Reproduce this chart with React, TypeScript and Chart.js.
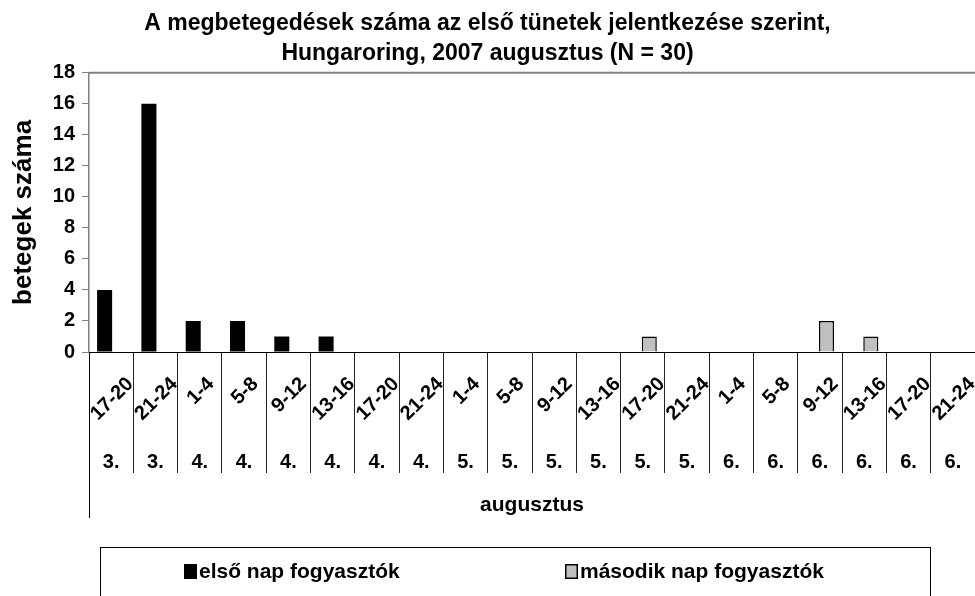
import React, { useEffect, useRef } from 'react';
import { Chart, registerables } from 'chart.js';

Chart.register(...registerables);

const FONT = '"Liberation Sans", Arial, sans-serif';

const titleLines = [
  'A megbetegedések száma az első tünetek jelentkezése szerint,',
  'Hungaroring, 2007 augusztus (N = 30)',
];
const hourLabels = [
  '17-20', '21-24', '1-4', '5-8', '9-12', '13-16', '17-20', '21-24',
  '1-4', '5-8', '9-12', '13-16', '17-20', '21-24',
  '1-4', '5-8', '9-12', '13-16', '17-20', '21-24',
];
const dayLabels = [
  '3.', '3.', '4.', '4.', '4.', '4.', '4.', '4.',
  '5.', '5.', '5.', '5.', '5.', '5.',
  '6.', '6.', '6.', '6.', '6.', '6.',
];
const monthLabel = 'augusztus';
const yAxisTitle = 'betegek száma';
const seriesNames = ['első nap fogyasztók', 'második nap fogyasztók'];
const firstDayValues = [4, 16, 2, 2, 1, 1, null, null, null, null, null, null, null, null, null, null, null, null, null, null];
const secondDayValues = [null, null, null, null, null, null, null, null, null, null, null, null, 1, null, null, null, 2, 1, null, null];
const yTicks = { min: 0, max: 18, step: 2 };

const customPlugin = {
  id: 'customAxisAndLegend',
  afterDraw(chart: any) {
    const { ctx, chartArea } = chart;
    const xScale = chart.scales.x;
    ctx.save();
    // plot area top border
    ctx.strokeStyle = '#808080';
    ctx.lineWidth = 2;
    ctx.beginPath();
    ctx.moveTo(chartArea.left, chartArea.top);
    ctx.lineTo(chartArea.right, chartArea.top);
    ctx.stroke();
    // left extended line
    ctx.strokeStyle = '#000';
    ctx.lineWidth = 1;
    ctx.beginPath();
    ctx.moveTo(chartArea.left + 0.5, chartArea.bottom);
    ctx.lineTo(chartArea.left + 0.5, chartArea.bottom + 166);
    ctx.stroke();

    ctx.fillStyle = '#000';
    // hour labels, rotated
    ctx.font = `bold 20px ${FONT}`;
    ctx.textAlign = 'center';
    ctx.textBaseline = 'middle';
    hourLabels.forEach((lab, i) => {
      const x = xScale.getPixelForValue(i);
      const w = ctx.measureText(lab).width;
      const cy = chartArea.bottom + 24 + (w + 14) * 0.3536;
      ctx.save();
      ctx.translate(x + 1, cy);
      ctx.rotate(-Math.PI / 4);
      ctx.fillText(lab, 0, 0);
      ctx.restore();
    });
    // day labels
    ctx.font = `bold 20px ${FONT}`;
    dayLabels.forEach((lab, i) => {
      const x = xScale.getPixelForValue(i);
      ctx.fillText(lab, x, chartArea.bottom + 110);
    });
    // month label
    ctx.font = `bold 21px ${FONT}`;
    ctx.fillText(monthLabel, (chartArea.left + chartArea.right) / 2, chartArea.bottom + 153);

    // legend box
    const bx = 100, by = 547, bw = 830, bh = 80;
    ctx.strokeStyle = '#000';
    ctx.lineWidth = 1;
    ctx.strokeRect(bx + 0.5, by + 0.5, bw, bh);
    const itemX = [bx + 84, bx + 465];
    const ly = by + 25;
    ctx.textAlign = 'left';
    ctx.font = `bold 21px ${FONT}`;
    chart.data.datasets.forEach((ds: any, i: number) => {
      const x0 = itemX[i];
      ctx.fillStyle = ds.backgroundColor;
      ctx.fillRect(x0, ly - 8, 13, 15);
      if (ds.borderWidth) {
        ctx.strokeStyle = '#000';
        ctx.lineWidth = 1.5;
        ctx.strokeRect(x0 + 0.75, ly - 7.25, 11.5, 13.5);
      }
      ctx.fillStyle = '#000';
      ctx.fillText(ds.label, x0 + 15, ly);
    });
    ctx.restore();
  },
};

export default function App() {
  const ref = useRef<HTMLCanvasElement | null>(null);
  useEffect(() => {
    if (!ref.current) return;
    const chart = new Chart(ref.current, {
      type: 'bar',
      data: {
        labels: hourLabels,
        datasets: [
          {
            label: seriesNames[0],
            data: firstDayValues,
            backgroundColor: '#000000',
            borderColor: '#000000',
            borderWidth: 0,
            categoryPercentage: 0.59,
            barPercentage: 1.15,
          },
          {
            label: seriesNames[1],
            data: secondDayValues,
            backgroundColor: '#c0c0c0',
            borderColor: '#000000',
            borderWidth: 1.5,
            categoryPercentage: 0.59,
            barPercentage: 1.15,
          },
        ],
      },
      options: {
        responsive: false,
        animation: false,
        layout: { padding: 0 },
        plugins: {
          legend: { display: false },
          tooltip: { enabled: false },
          title: {
            display: true,
            text: titleLines,
            color: '#000',
            font: { family: FONT, size: 23, weight: 'bold', lineHeight: 1.3 },
            padding: { top: 9, bottom: 4 },
          },
        },
        scales: {
          x: {
            type: 'category',
            offset: true,
            grid: { offset: true, drawOnChartArea: false, drawTicks: true, tickLength: 121, color: '#222', lineWidth: 1 },
            border: { color: '#000', width: 1 },
            ticks: { display: false },
            afterFit: (s: any) => { s.height = 244; },
          },
          y: {
            min: yTicks.min,
            max: yTicks.max,
            ticks: { stepSize: yTicks.step, color: '#000', padding: 7, font: { family: FONT, size: 20, weight: 'bold' } },
            grid: { drawOnChartArea: false, drawTicks: true, tickLength: 7, color: '#808080' },
            border: { color: '#808080', width: 1.5 },
            title: {
              display: true,
              text: yAxisTitle,
              color: '#000',
              font: { family: FONT, size: 26, weight: 'bold' },
              padding: { top: 8, bottom: 0 },
            },
            afterFit: (s: any) => { s.width = 89; },
          },
        },
      },
      plugins: [customPlugin],
    } as any);
    return () => chart.destroy();
  }, []);
  return (
    <div style={{ position: 'absolute', left: 0, top: 0, width: 975, height: 596, overflow: 'hidden', background: '#fff' }}>
      <canvas ref={ref} width={975} height={596} style={{ display: 'block' }} />
    </div>
  );
}
